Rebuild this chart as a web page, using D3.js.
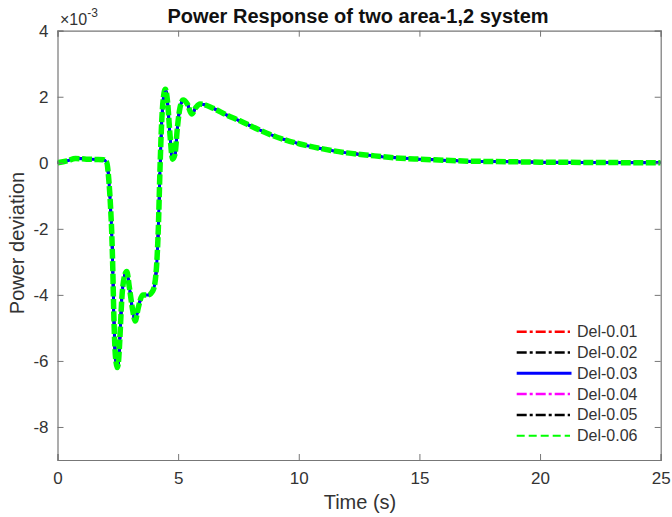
<!DOCTYPE html>
<html lang="en">
<head>
<meta charset="UTF-8">
<title>Power Response of two area-1,2 system</title>
<script src="https://cdnjs.cloudflare.com/ajax/libs/d3/7.8.5/d3.min.js"></script>
<style>
  body { margin: 0; background: #fff; font-family: "Liberation Sans", Arial, sans-serif; }
</style>
</head>
<body>
<div id="chart"></div>
<script>
// time axis (s) and the power deviation (x10^-3) shared by every delay case
const timeS = [0, 0.4, 0.75, 1.2, 1.6, 1.9, 2.04, 2.13, 2.2, 2.25, 2.29, 2.33, 2.38, 2.43, 2.48, 2.53, 2.58,
  2.66, 2.76, 2.87, 2.98, 3.12, 3.22, 3.35, 3.53, 3.76, 3.95, 4.08, 4.18, 4.25, 4.32, 4.39, 4.47, 4.57,
  4.66, 4.77, 4.87, 4.97, 5.08, 5.21, 5.38, 5.56, 5.74, 5.9, 6.46, 7.0, 7.56, 8.2, 8.94, 10.05, 11, 12,
  13, 14, 15, 16, 17, 18, 20, 22, 25];
const powerDev = [0, 0.06, 0.13, 0.11, 0.1, 0.09, 0.01, -0.55, -1.35, -2.16, -3.17, -4.48, -5.6, -6.05,
  -6.2, -6.0, -5.4, -4.18, -3.48, -3.29, -3.78, -4.48, -4.79, -4.38, -4.0, -4.0, -3.88, -3.37, -1.96,
  -0.14, 1.27, 1.98, 2.23, 1.78, 0.87, 0.11, 0.26, 1.07, 1.68, 1.9, 1.78, 1.48, 1.68, 1.78, 1.65, 1.45,
  1.27, 1.05, 0.82, 0.57, 0.42, 0.3, 0.22, 0.15, 0.11, 0.08, 0.05, 0.04, 0.02, 0.01, 0];

const seriesNames = ["Del-0.01", "Del-0.02", "Del-0.03", "Del-0.04", "Del-0.05", "Del-0.06"];
const xTicks = [0, 5, 10, 15, 20, 25];
const yTicks = [-8, -6, -4, -2, 0, 2, 4];

// line styles per series (MATLAB-like)
const styles = [
  { color: "#ff0000", dash: "10,3,3,3", w: 2.5, lw: 2.5 },
  { color: "#000000", dash: "10,3,3,3", w: 2.5, lw: 2.5 },
  { color: "#0000ff", dash: null,       w: 3,   lw: 3 },
  { color: "#ff00ff", dash: "10,3,3,3", w: 2.5, lw: 2.5 },
  { color: "#000000", dash: "10,3,3,3", w: 2.5, lw: 2.5 },
  { color: "#00ff00", dash: "10,2.5",   w: 5.5, lw: 2, ldash: "8,4" }
];
// the solid blue trace sits right under the dashed green one
const drawOrder = [0, 1, 3, 4, 2, 5];

const width = 672, height = 517;
const margin = { left: 57.5, right: 11.3, top: 30.7, bottom: 57 };
const axisColor = "#777", textColor = "#333";

const svg = d3.select("#chart").append("svg")
  .attr("width", width).attr("height", height)
  .style("font-family", "'Liberation Sans', Arial, sans-serif");

const x = d3.scaleLinear().domain([0, 25]).range([margin.left, width - margin.right]);
const y = d3.scaleLinear().domain([-9, 4]).range([height - margin.bottom, margin.top]);

const pts = timeS.map((t, i) => [t, powerDev[i]]);
const line = d3.line().x(d => x(d[0])).y(d => y(d[1])).curve(d3.curveMonotoneX);

svg.append("clipPath").attr("id", "clip").append("rect")
  .attr("x", x(0)).attr("y", y(4)).attr("width", x(25) - x(0)).attr("height", y(-9) - y(4));

const plot = svg.append("g").attr("clip-path", "url(#clip)");
drawOrder.forEach(i => {
  const s = styles[i];
  plot.append("path")
    .datum(pts)
    .attr("fill", "none")
    .attr("stroke", s.color)
    .attr("stroke-width", s.w)
    .attr("stroke-dasharray", s.dash)
    .attr("stroke-linejoin", "round")
    .attr("d", line);
});

// axes: ticks pointing inward on all four sides
const tickLen = 6;
const axBottom = svg.append("g").attr("transform", `translate(0,${y(-9)})`)
  .call(d3.axisBottom(x).tickValues(xTicks).tickSize(-tickLen).tickPadding(12).tickFormat(d3.format("d")));
const axTop = svg.append("g").attr("transform", `translate(0,${y(4)})`)
  .call(d3.axisTop(x).tickValues(xTicks).tickSize(-tickLen).tickFormat(""));
const axLeft = svg.append("g").attr("transform", `translate(${x(0)},0)`)
  .call(d3.axisLeft(y).tickValues(yTicks).tickSize(-tickLen).tickPadding(9).tickFormat(d => String(d)));
const axRight = svg.append("g").attr("transform", `translate(${x(25)},0)`)
  .call(d3.axisRight(y).tickValues(yTicks).tickSize(-tickLen).tickFormat(""));

[axBottom, axTop, axLeft, axRight].forEach(g => {
  g.select(".domain").attr("stroke", axisColor).attr("stroke-width", 1.2);
  g.selectAll(".tick line").attr("stroke", axisColor).attr("stroke-width", 1);
  g.selectAll(".tick text").attr("fill", textColor).style("font-size", "17px");
});

// exponent note at top-left of the axes
const expo = svg.append("text").attr("x", 60).attr("y", 25).attr("fill", textColor).style("font-size", "16px");
expo.append("tspan").text("×10");
expo.append("tspan").attr("dy", -8).style("font-size", "12px").text("-3");

svg.append("text")
  .attr("x", 358).attr("y", 23)
  .attr("text-anchor", "middle")
  .attr("fill", "#111")
  .style("font-size", "20px").style("font-weight", "bold")
  .text("Power Response of two area-1,2 system");

svg.append("text")
  .attr("x", 360).attr("y", 509)
  .attr("text-anchor", "middle")
  .attr("fill", textColor)
  .style("font-size", "20px")
  .text("Time (s)");

svg.append("text")
  .attr("transform", "translate(24,243) rotate(-90)")
  .attr("text-anchor", "middle")
  .attr("fill", textColor)
  .style("font-size", "20px")
  .text("Power deviation");

// legend
const legend = svg.append("g");
seriesNames.forEach((name, i) => {
  const s = styles[i];
  const ly = 331.7 + i * 20.8;
  legend.append("line")
    .attr("x1", 516.7).attr("x2", i === 2 ? 571.5 : 570)
    .attr("y1", ly).attr("y2", ly)
    .attr("stroke", s.color)
    .attr("stroke-width", s.lw)
    .attr("stroke-dasharray", s.ldash || s.dash);
  legend.append("text")
    .attr("x", 577).attr("y", ly + 5.5)
    .attr("fill", textColor)
    .style("font-size", "16px")
    .text(name);
});
</script>
</body>
</html>
